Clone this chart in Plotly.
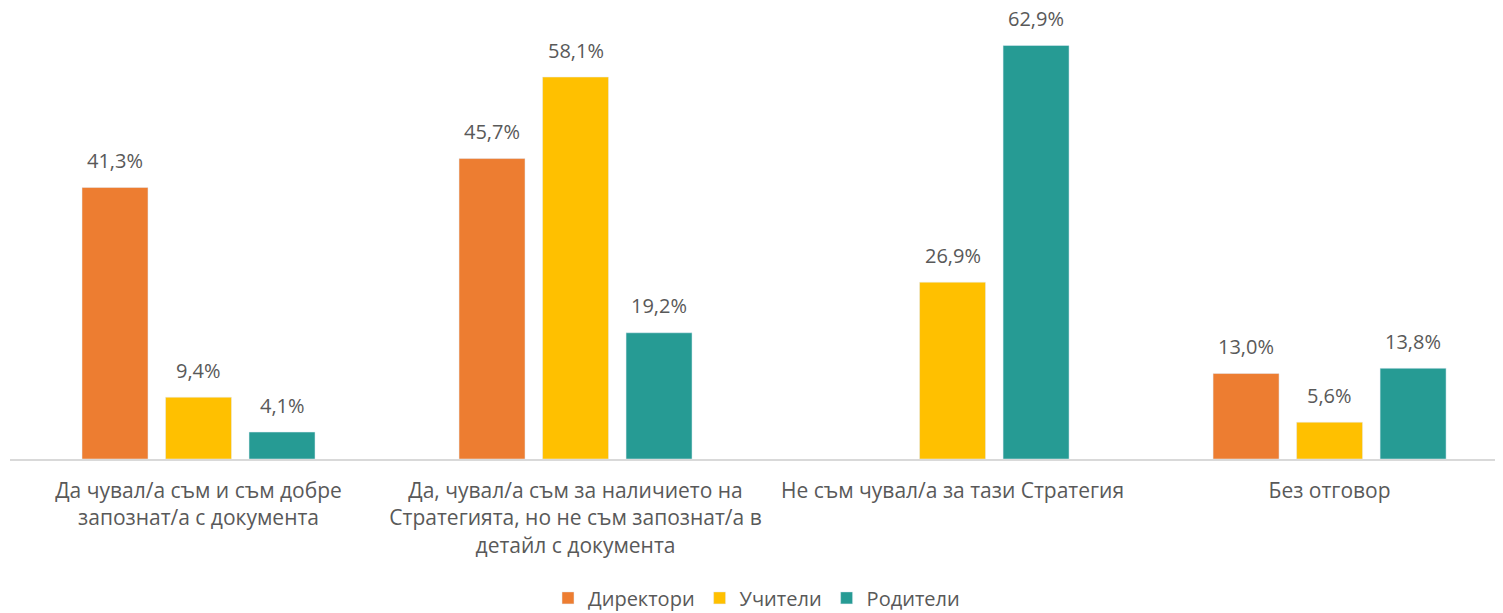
import plotly.graph_objects as go

categories = [
    "Да чувал/а съм и съм добре<br>запознат/а с документа",
    "Да, чувал/а съм за наличието на<br>Стратегията, но не съм запознат/а в<br>детайл с документа",
    "Не съм чувал/а за тази Стратегия",
    "Без отговор",
]
series_names = ["Директори", "Учители", "Родители"]
directors = [41.3, 45.7, None, 13.0]
teachers = [9.4, 58.1, 26.9, 5.6]
parents = [4.1, 19.2, 62.9, 13.8]
colors = ["#ED7D31", "#FFC000", "#269B94"]

TEXT = "#595959"
SLOT_PX = 83.5  # distance between neighbouring bars within a group


def fmt(v):
    return f"{v:.1f}%".replace(".", ",")


fig = go.Figure()
all_series = [directors, teachers, parents]
for name, vals, col in zip(series_names, all_series, colors):
    fig.add_trace(go.Bar(x=categories, y=vals, name=name, marker_color=col))

annotations = []
for i, vals in enumerate(all_series):
    for cat, v in zip(categories, vals):
        if v is None:
            continue
        annotations.append(dict(
            x=cat, y=v, xref="x", yref="y", text=fmt(v), showarrow=False,
            xshift=(i - 1) * SLOT_PX, yshift=27, yanchor="middle",
            font=dict(size=20, color=TEXT),
        ))

fig.update_layout(
    width=1495, height=605,
    margin=dict(l=2, r=0, t=0, b=154),
    paper_bgcolor="white", plot_bgcolor="white",
    font=dict(family="Open Sans", color=TEXT),
    barmode="group", bargap=0.3355, bargroupgap=0.21,
    legend=dict(orientation="h", x=0.5, xanchor="center", yref="container",
                y=0.025, yanchor="middle", font=dict(size=20, color=TEXT),
                traceorder="normal"),
    showlegend=True,
    annotations=annotations,
)
fig.update_xaxes(range=[-0.5, 3.46], showline=True, linecolor="#D9D9D9", linewidth=1.5,
                 tickfont=dict(size=21, color=TEXT), ticks="", showgrid=False,
                 ticklabelstandoff=12)
fig.update_yaxes(range=[0, 68.6], visible=False, showgrid=False)

fig.write_html("out.html")
